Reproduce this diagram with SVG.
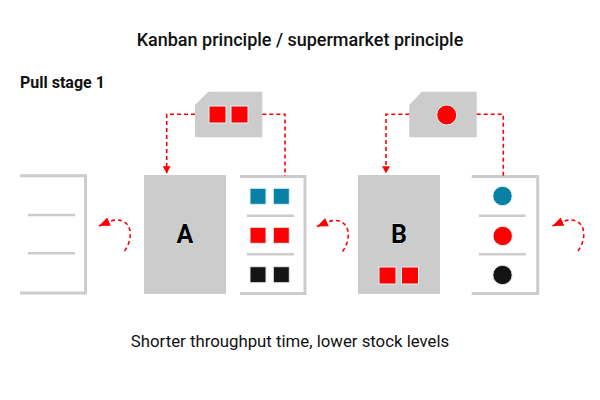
<svg xmlns="http://www.w3.org/2000/svg" xmlns:xlink="http://www.w3.org/1999/xlink" width="600" height="400" viewBox="0 0 600 400">
<style>
  .t { font-family: Roboto, "Liberation Sans", Arial, sans-serif; fill: #111; }
  .shelf { fill: none; stroke: #cccccc; stroke-width: 3; }
  .div { stroke: #cccccc; stroke-width: 2.5; }
  .box { fill: #cccccc; }
  .dash { fill: none; stroke: #ff0000; stroke-width: 1.6; stroke-dasharray: 4 3; }
  .red { fill: #ff0000; stroke: #d9f2f5; stroke-width: 1; }
  .teal { fill: #087fa5; stroke: #d9f2f5; stroke-width: 1; }
  .blk { fill: #141414; stroke: #e8e8e8; stroke-width: 1; }
  .letter { font-family: Roboto, "Liberation Sans", Arial, sans-serif; font-weight: 700; font-size: 25px; fill: #000; stroke: #fff; stroke-width: 0.6; paint-order: stroke; }
</style>
<defs>
  <marker id="ah" markerWidth="11" markerHeight="11" viewBox="0 0 11 11" refX="11" refY="5.5" orient="auto" markerUnits="userSpaceOnUse">
    <path d="M0,1 L11,5.5 L0,10 Z" fill="#ff0000"/>
  </marker>
  <marker id="ahd" markerWidth="8" markerHeight="8" viewBox="0 0 8 8" refX="7" refY="4" orient="auto" markerUnits="userSpaceOnUse">
    <path d="M0,0 L7,4 L0,8 Z" fill="#ff0000"/>
  </marker>
  <path id="curl" d="M124.5,251 C134,238 132,220 117,220 C112,220 108,222 99,226" class="dash" marker-end="url(#ah)"/>
</defs>

<text class="t" x="300" y="46" text-anchor="middle" font-size="18" font-weight="500">Kanban principle / supermarket principle</text>
<text class="t" x="20" y="88" font-size="16" font-weight="700">Pull stage 1</text>
<text class="t" x="290" y="347" text-anchor="middle" font-size="16.8">Shorter throughput time, lower stock levels</text>

<g id="shelf0">
  <path class="shelf" d="M20,175.7 H85.5 V293 H20"/>
  <line class="div" x1="28" y1="215" x2="75" y2="215"/>
  <line class="div" x1="28" y1="253.3" x2="75" y2="253.3"/>
</g>

<g id="stationA">
  <rect class="box" x="144" y="175" width="82" height="119"/>
  <text class="letter" x="185" y="243.3" text-anchor="middle">A</text>
</g>

<g id="shelf1">
  <path class="shelf" d="M240,176.5 H305 V293.5 H240"/>
  <line class="div" x1="247" y1="215.7" x2="294" y2="215.7"/>
  <line class="div" x1="247" y1="254.3" x2="294" y2="254.3"/>
  <rect class="teal" x="250" y="188.3" width="16" height="16"/>
  <rect class="teal" x="273.3" y="188.3" width="16" height="16"/>
  <rect class="red" x="250" y="227.3" width="16" height="16"/>
  <rect class="red" x="273.3" y="227.3" width="16" height="16"/>
  <rect class="blk" x="250" y="266.7" width="16" height="16"/>
  <rect class="blk" x="273.3" y="266.7" width="16" height="16"/>
</g>

<g id="kanban1">
  <polygon class="box" points="208.3,91.7 262.3,91.7 262.3,137.3 195,137.3 195,105"/>
  <rect class="red" x="209" y="106" width="17" height="17"/>
  <rect class="red" x="231" y="106" width="17" height="17"/>
</g>

<g id="stationB">
  <rect class="box" x="358" y="175" width="82" height="119"/>
  <text class="letter" x="399" y="243.3" text-anchor="middle">B</text>
  <rect class="red" x="379" y="267" width="17" height="17"/>
  <rect class="red" x="401.5" y="267" width="17" height="17"/>
</g>

<g id="shelf2">
  <path class="shelf" d="M471.7,176.5 H537.7 V293.5 H471.7"/>
  <line class="div" x1="479" y1="215.7" x2="525.7" y2="215.7"/>
  <line class="div" x1="479" y1="254.3" x2="525.7" y2="254.3"/>
  <circle class="teal" cx="502.5" cy="196" r="9.7"/>
  <circle class="red" cx="502.7" cy="236" r="9.7"/>
  <circle class="blk" cx="502.5" cy="275" r="9.7"/>
</g>

<g id="kanban2">
  <polygon class="box" points="421.7,91.7 476.7,91.7 476.7,137.3 409.3,137.3 409.3,105"/>
  <circle class="red" cx="446.7" cy="115" r="10"/>
</g>

<g id="connectors">
  <path class="dash" d="M195,114.3 H166.7 V173.3" marker-end="url(#ahd)"/>
  <path class="dash" d="M262.3,114.3 H285 V176"/>
  <path class="dash" d="M409.3,114.3 H386 V173.3" marker-end="url(#ahd)"/>
  <path class="dash" d="M476.7,114.3 H503.3 V176"/>
  <use xlink:href="#curl"/>
  <use xlink:href="#curl" transform="translate(218,0.5)"/>
  <use xlink:href="#curl" transform="translate(453.5,0)"/>
</g>
</svg>
